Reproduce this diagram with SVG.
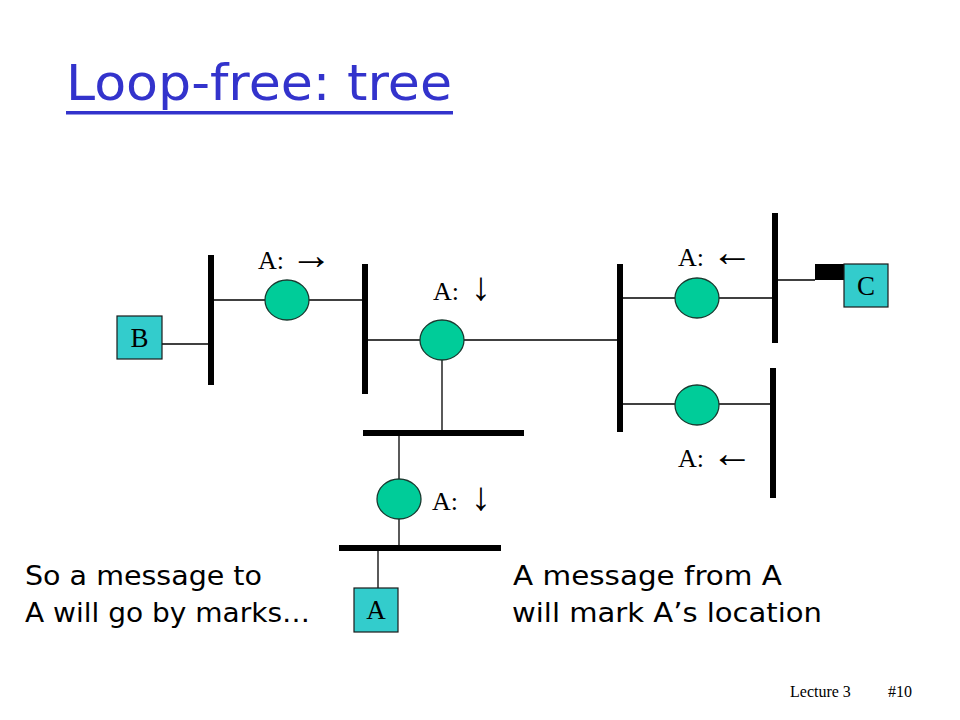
<svg xmlns="http://www.w3.org/2000/svg" width="960" height="720" viewBox="0 0 960 720">
<style>
.bus{stroke:#000;stroke-width:6;fill:none}
.wire{stroke:#000;stroke-width:1.3;fill:none}
.br{fill:#00CC99;stroke:#1a3a30;stroke-width:1.3}
.host{fill:#33CCCC;stroke:#1a1a1a;stroke-width:1.2}
.lbl{font-family:"Liberation Serif","Times New Roman",serif;font-size:26px;fill:#000}
.arr{font-family:"Liberation Serif","DejaVu Serif",serif;font-size:42px;fill:#000}
.darr{font-family:"Liberation Serif","DejaVu Serif",serif;font-size:40px;fill:#000}
.hl{font-family:"Liberation Serif","Times New Roman",serif;font-size:27px;fill:#000;text-anchor:middle}
.note{font-family:"DejaVu Sans","Noto Sans",sans-serif;font-size:26px;fill:#000}
.foot{font-family:"Liberation Serif","Times New Roman",serif;font-size:16px;fill:#000}
</style>
<rect width="960" height="720" fill="#fff"/>
<g id="title">
<text x="66" y="100" font-family="DejaVu Sans, sans-serif" font-size="50" fill="#3333CC" textLength="386" lengthAdjust="spacingAndGlyphs">Loop-free: tree</text>
<rect x="66" y="111" width="387" height="3.5" fill="#3333CC"/>
</g>
<g id="connectors">
<line class="wire" x1="162" y1="344" x2="211" y2="344"/>
<line class="wire" x1="211" y1="300" x2="265" y2="300"/>
<line class="wire" x1="309" y1="300" x2="365" y2="300"/>
<line class="wire" x1="365" y1="340" x2="420" y2="340"/>
<line class="wire" x1="464" y1="340" x2="620" y2="340"/>
<line class="wire" x1="442" y1="360" x2="442" y2="433"/>
<line class="wire" x1="399" y1="433" x2="399" y2="479"/>
<line class="wire" x1="399" y1="519" x2="399" y2="548"/>
<line class="wire" x1="378" y1="548" x2="378" y2="588"/>
<line class="wire" x1="620" y1="298" x2="675" y2="298"/>
<line class="wire" x1="719" y1="298" x2="775" y2="298"/>
<line class="wire" x1="620" y1="404" x2="675" y2="404"/>
<line class="wire" x1="719" y1="404" x2="773" y2="404"/>
<line class="wire" x1="775" y1="280" x2="815" y2="280"/>
<rect x="815" y="264" width="30" height="16" fill="#000"/>
</g>
<g id="buses">
<line class="bus" x1="211" y1="255" x2="211" y2="385"/>
<line class="bus" x1="365" y1="264" x2="365" y2="394"/>
<line class="bus" x1="363" y1="433" x2="524" y2="433"/>
<line class="bus" x1="339" y1="548" x2="501" y2="548"/>
<line class="bus" x1="620" y1="264" x2="620" y2="432"/>
<line class="bus" x1="775" y1="213" x2="775" y2="343"/>
<line class="bus" x1="773" y1="368" x2="773" y2="498"/>
</g>
<g id="bridge1"><ellipse class="br" cx="287" cy="300" rx="22" ry="20"/><text class="lbl" x="258" y="269">A: <tspan class="arr" x="290">→&#xFE0E;</tspan></text></g>
<g id="bridge2"><ellipse class="br" cx="442" cy="340" rx="22" ry="20"/><text class="lbl" x="433" y="300">A: <tspan class="darr" x="471">↓&#xFE0E;</tspan></text></g>
<g id="bridge3"><ellipse class="br" cx="697" cy="298" rx="22" ry="20"/><text class="lbl" x="678" y="266">A: <tspan class="arr" x="711">←&#xFE0E;</tspan></text></g>
<g id="bridge4"><ellipse class="br" cx="697" cy="405" rx="22" ry="20"/><text class="lbl" x="678" y="467">A: <tspan class="arr" x="711">←&#xFE0E;</tspan></text></g>
<g id="bridge5"><ellipse class="br" cx="399" cy="499" rx="22" ry="20"/><text class="lbl" x="432" y="510">A: <tspan class="darr" x="471">↓&#xFE0E;</tspan></text></g>
<g id="hostB"><rect class="host" x="117" y="316" width="45" height="43"/><text class="hl" x="139.5" y="347">B</text></g>
<g id="hostC"><rect class="host" x="844" y="264" width="44" height="43"/><text class="hl" x="866" y="295">C</text></g>
<g id="hostA"><rect class="host" x="354" y="588" width="44" height="44"/><text class="hl" x="376" y="619">A</text></g>
<g id="notes">
<text class="note" x="25" y="585" textLength="237" lengthAdjust="spacingAndGlyphs">So a message to</text>
<text class="note" x="25" y="622" textLength="285" lengthAdjust="spacingAndGlyphs">A will go by marks…</text>
<text class="note" x="513" y="585" textLength="269" lengthAdjust="spacingAndGlyphs">A message from A</text>
<text class="note" x="512" y="622" textLength="310" lengthAdjust="spacingAndGlyphs">will mark A’s location</text>
</g>
<g id="footer">
<text class="foot" x="790" y="697">Lecture 3</text>
<text class="foot" x="888" y="697">#10</text>
</g>
</svg>
